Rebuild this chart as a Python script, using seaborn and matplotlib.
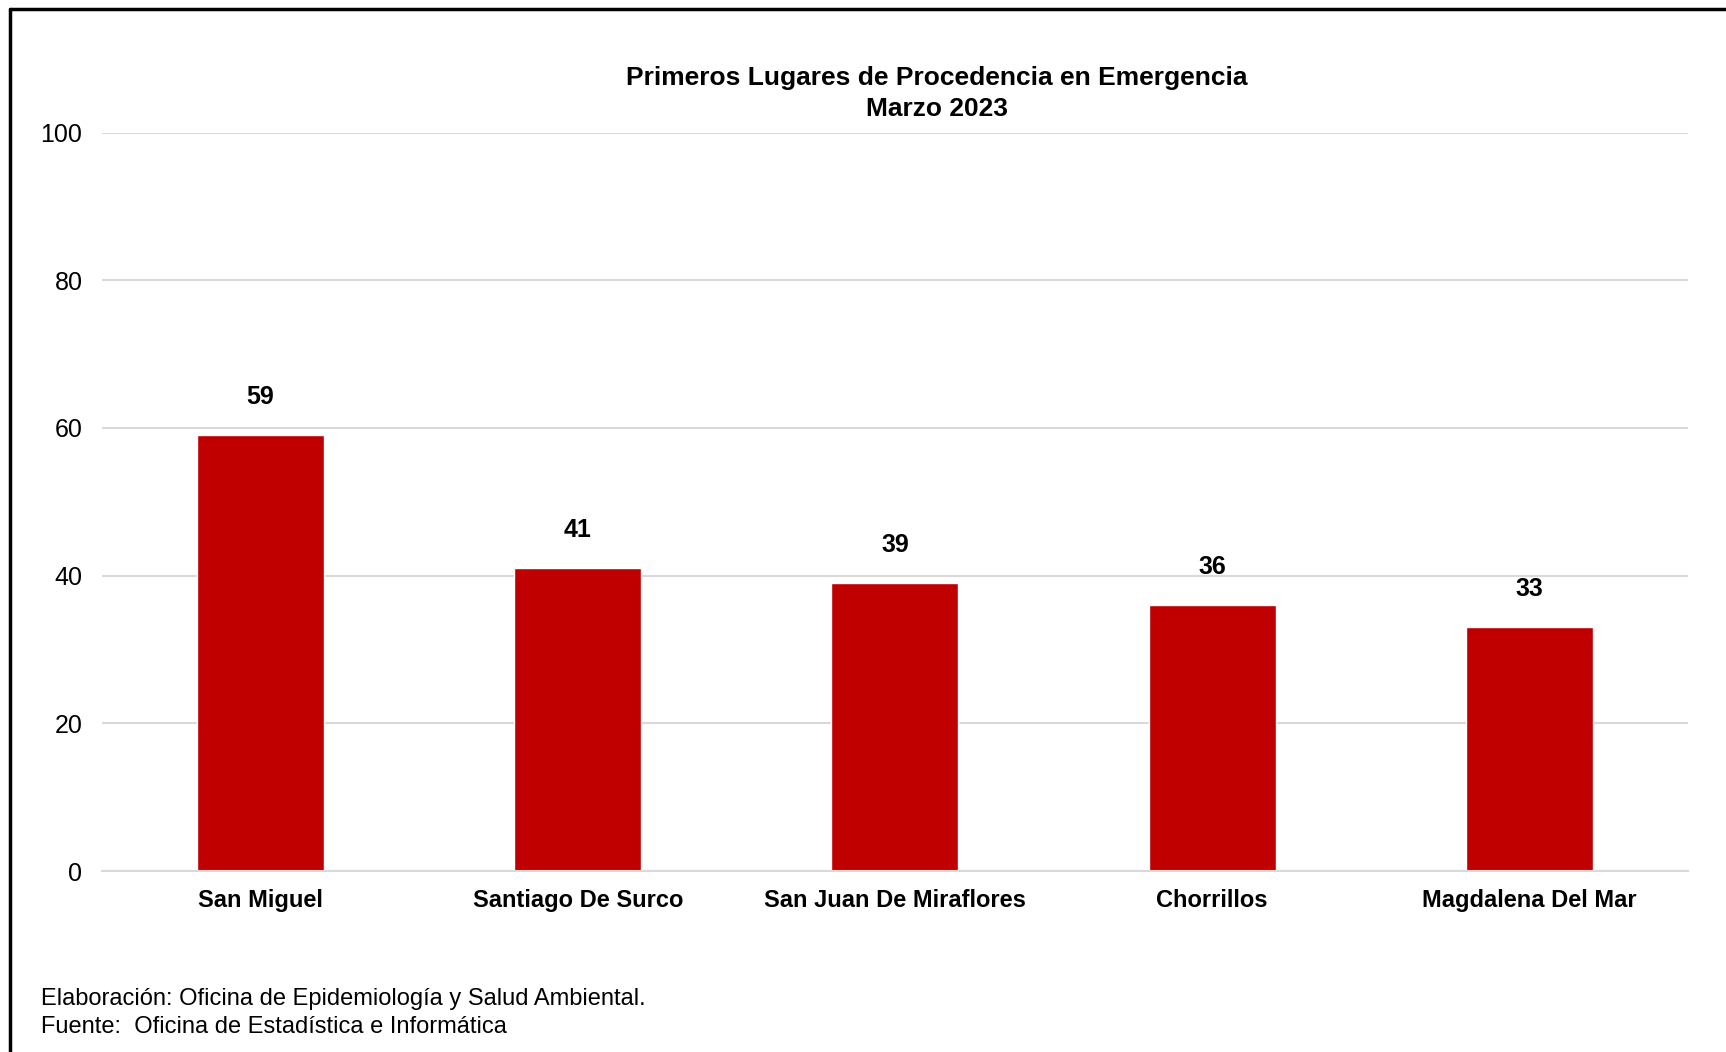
import seaborn as sns
import pandas as pd
from matplotlib import pyplot as plt
from matplotlib.lines import Line2D

lugares = ["San Miguel", "Santiago De Surco", "San Juan De Miraflores", "Chorrillos", "Magdalena Del Mar"]
casos = [59, 41, 39, 36, 33]
y_ticks = [0, 20, 40, 60, 80, 100]

titulo = "Primeros Lugares de Procedencia en Emergencia\nMarzo 2023"
nota1 = "Elaboración: Oficina de Epidemiología y Salud Ambiental."
nota2 = "Fuente:  Oficina de Estadística e Informática"

sns.set_style("white")
plt.rcParams['font.family'] = ['Liberation Sans', 'DejaVu Sans']
plt.rcParams['text.color'] = 'black'
plt.rcParams['xtick.color'] = 'black'
plt.rcParams['ytick.color'] = 'black'

df = pd.DataFrame({'lugar': lugares, 'casos': casos})

fig = plt.figure(figsize=(17.26, 10.52), dpi=100)
ax = fig.add_axes([0.059, 0.172, 0.919, 0.702])

sns.barplot(x='lugar', y='casos', data=df, color='#C00000', width=0.4,
            saturation=1, ax=ax)

ax.set_ylim(0, 100)
ax.set_yticks(y_ticks)
ax.yaxis.grid(True, color='#D9D9D9', linewidth=1.5)
ax.set_axisbelow(True)
for s in ['top', 'right', 'left']:
    ax.spines[s].set_visible(False)
ax.spines['bottom'].set_color('#D9D9D9')
ax.spines['bottom'].set_linewidth(1.5)
ax.tick_params(axis='y', length=0, labelsize=18, pad=14)
ax.tick_params(axis='x', length=0, labelsize=17, pad=13)
for lbl in ax.get_xticklabels():
    lbl.set_fontweight('bold')
ax.set_xlabel('')
ax.set_ylabel('')
ax.set_xlim(-0.5, 4.5)

for i, v in enumerate(casos):
    ax.annotate(str(v), (i, v), xytext=(0, 19), textcoords='offset points',
                ha='center', va='bottom', fontsize=18, fontweight='bold')

fig.text(0.543, 0.911, titulo, ha='center', va='center', fontsize=19,
         fontweight='bold', linespacing=1.35)

fig.text(0.024, 0.050, nota1, fontsize=17, va='center')
fig.text(0.024, 0.024, nota2, fontsize=17, va='center')

# marco de la imagen (solo arriba e izquierda visibles)
fig.add_artist(Line2D([0.006, 0.006], [0, 0.991], color='black', lw=2.5,
                      transform=fig.transFigure))
fig.add_artist(Line2D([0.006, 1.0], [0.991, 0.991], color='black', lw=2.5,
                      transform=fig.transFigure))

plt.savefig("out.png", dpi=100)
